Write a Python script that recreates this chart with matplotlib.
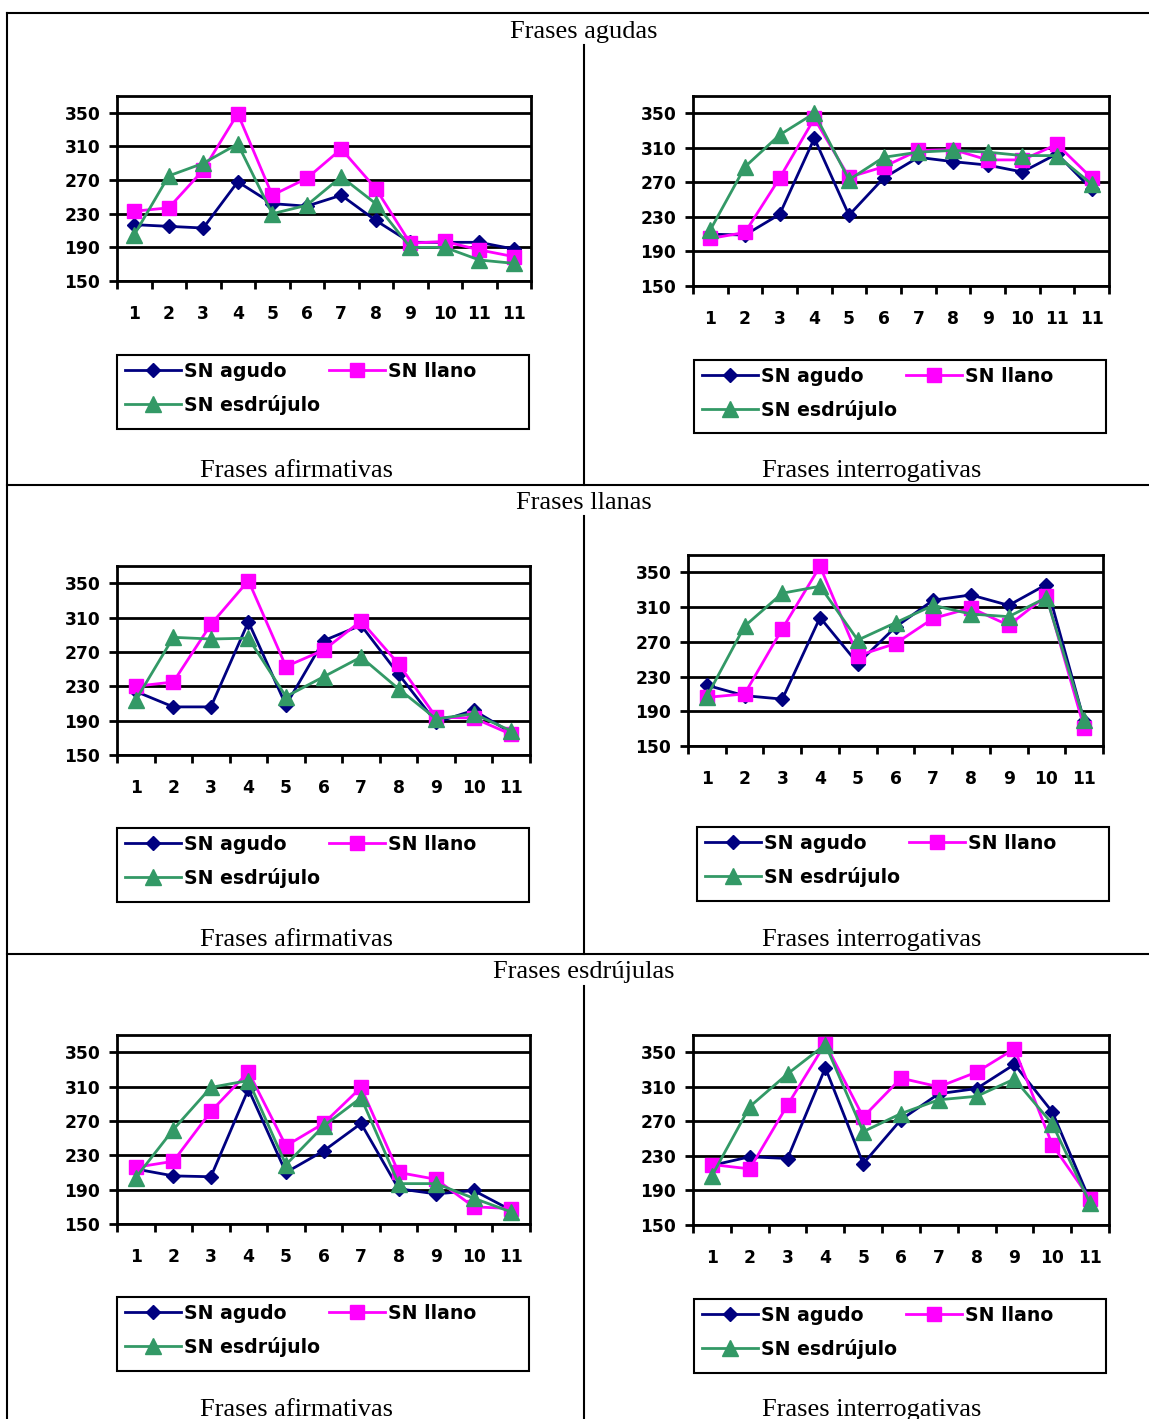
import numpy as np
import matplotlib.pyplot as plt
from matplotlib.lines import Line2D
from matplotlib.patches import Rectangle

# category labels (the first row of charts repeats "11" as in the source)
labels_12 = ["1", "2", "3", "4", "5", "6", "7", "8", "9", "10", "11", "11"]
labels_11 = ["1", "2", "3", "4", "5", "6", "7", "8", "9", "10", "11"]

series_names = ["SN agudo", "SN llano", "SN esdrújulo"]

# Frases agudas
agudas_afirm_agudo = [217, 215, 213, 268, 242, 239, 252, 222, 196, 196, 196, 188]
agudas_afirm_llano = [233, 237, 282, 349, 252, 272, 307, 260, 195, 197, 187, 179]
agudas_afirm_esdr = [205, 275, 290, 313, 230, 240, 274, 242, 190, 190, 175, 171]

agudas_interr_agudo = [210, 209, 233, 321, 232, 275, 299, 294, 290, 282, 303, 262]
agudas_interr_llano = [205, 212, 275, 344, 276, 288, 307, 308, 296, 296, 314, 275]
agudas_interr_esdr = [215, 288, 325, 350, 273, 299, 305, 307, 305, 301, 301, 268]

# Frases llanas
llanas_afirm_agudo = [224, 206, 206, 305, 208, 283, 301, 244, 188, 202, 176]
llanas_afirm_llano = [230, 235, 302, 353, 253, 272, 306, 256, 194, 193, 174]
llanas_afirm_esdr = [214, 287, 285, 286, 218, 241, 264, 227, 192, 198, 178]

llanas_interr_agudo = [220, 208, 204, 298, 245, 287, 318, 324, 312, 336, 179]
llanas_interr_llano = [206, 210, 285, 357, 254, 268, 297, 309, 289, 323, 171]
llanas_interr_esdr = [207, 288, 326, 334, 272, 292, 312, 302, 299, 321, 180]

# Frases esdrujulas
esdr_afirm_agudo = [214, 206, 205, 307, 210, 235, 267, 191, 185, 189, 166]
esdr_afirm_llano = [216, 223, 281, 327, 241, 267, 309, 210, 202, 170, 168]
esdr_afirm_esdr = [204, 260, 309, 317, 219, 264, 297, 197, 197, 180, 164]

esdr_interr_agudo = [219, 229, 227, 332, 221, 272, 302, 308, 336, 281, 178]
esdr_interr_llano = [220, 215, 289, 360, 275, 320, 310, 327, 354, 243, 180]
esdr_interr_esdr = [207, 287, 325, 359, 258, 279, 295, 299, 319, 267, 175]

W, H = 1149, 1419
fig = plt.figure(figsize=(W / 100, H / 100), dpi=100)

colors = ["#000080", "#ff00ff", "#339966"]
markers = ["D", "s", "^"]
msizes = [7.5, 10.5, 11]
serif = "Liberation Serif"


def fig_line(x0, y0, x1, y1, lw=1.5):
    fig.add_artist(Line2D([x0 / W, x1 / W], [1 - y0 / H, 1 - y1 / H],
                          color="black", lw=lw))


def chart(box, labels, series, legbox):
    l, t, r, b = box
    ax = fig.add_axes([l / W, 1 - b / H, (r - l) / W, (b - t) / H])
    x = np.arange(len(labels)) + 0.5
    for vals, name, c, m, ms in zip(series, series_names, colors, markers, msizes):
        ax.plot(x, vals, color=c, marker=m, ms=ms, lw=2, label=name,
                clip_on=False, zorder=3)
    ax.set_xlim(0, len(labels))
    ax.set_ylim(150, 370)
    ax.set_yticks(range(150, 351, 40))
    ax.yaxis.grid(True, color="black", lw=2)
    ax.set_axisbelow(True)
    ax.set_xticks(np.arange(len(labels) + 1))
    ax.set_xticklabels([])
    ax.set_xticks(x, minor=True)
    ax.set_xticklabels(labels, minor=True)
    ax.tick_params(axis="x", which="major", length=6, width=2)
    ax.tick_params(axis="x", which="minor", length=0, pad=17)
    ax.tick_params(axis="y", length=6, width=2, pad=6)
    for lab in ax.get_xticklabels(minor=True) + ax.get_yticklabels():
        lab.set_fontsize(12.3)
        lab.set_fontweight("bold")
    for sp in ax.spines.values():
        sp.set_linewidth(2)

    # legend, drawn row by row: agudo, llano / esdrujulo
    h, lb = ax.get_legend_handles_labels()
    order = [0, 2, 1]
    ll, lt, lr, lbm = legbox
    fig.legend([h[i] for i in order], [lb[i] for i in order], ncol=2,
               loc="upper left", bbox_to_anchor=(ll / W + 8 / W, 1 - (lt + 7) / H),
               frameon=False, borderpad=0, borderaxespad=0,
               handlelength=2.95, handletextpad=0.2, columnspacing=0.45,
               labelspacing=0.72, prop={"size": 13.6, "weight": "bold"})
    fig.add_artist(Rectangle((ll / W, 1 - lbm / H), (lr - ll) / W, (lbm - lt) / H,
                             transform=fig.transFigure, fill=False,
                             ec="black", lw=1.5))
    return ax


chart((117, 96, 531, 281), labels_12,
      [agudas_afirm_agudo, agudas_afirm_llano, agudas_afirm_esdr],
      (117, 355, 529, 429))
chart((693, 96, 1109, 286), labels_12,
      [agudas_interr_agudo, agudas_interr_llano, agudas_interr_esdr],
      (694, 360, 1106, 433))
chart((117, 566, 530, 755), labels_11,
      [llanas_afirm_agudo, llanas_afirm_llano, llanas_afirm_esdr],
      (117, 828, 529, 902))
chart((688, 555, 1103, 746), labels_11,
      [llanas_interr_agudo, llanas_interr_llano, llanas_interr_esdr],
      (697, 827, 1109, 901))
chart((117, 1035, 530, 1224), labels_11,
      [esdr_afirm_agudo, esdr_afirm_llano, esdr_afirm_esdr],
      (117, 1297, 529, 1371))
chart((693, 1035, 1109, 1225), labels_11,
      [esdr_interr_agudo, esdr_interr_llano, esdr_interr_esdr],
      (694, 1299, 1106, 1373))

# table frame
fig_line(7, 13, W, 13)
fig_line(7, 13, 7, H)
fig_line(7, 485, W, 485)
fig_line(7, 954, W, 954)
fig_line(584, 45, 584, 485)
fig_line(584, 516, 584, 954)
fig_line(584, 986, 584, H)

for y, txt in [(32, "Frases agudas"), (503, "Frases llanas"), (972, "Frases esdrújulas")]:
    fig.text(584 / W, 1 - y / H, txt, ha="center", va="center",
             family=serif, fontsize=19)
for y in [471, 940, 1410]:
    fig.text(296 / W, 1 - y / H, "Frases afirmativas", ha="center", va="center",
             family=serif, fontsize=19)
    fig.text(872 / W, 1 - y / H, "Frases interrogativas", ha="center", va="center",
             family=serif, fontsize=19)

plt.savefig("out.png", dpi=100)
